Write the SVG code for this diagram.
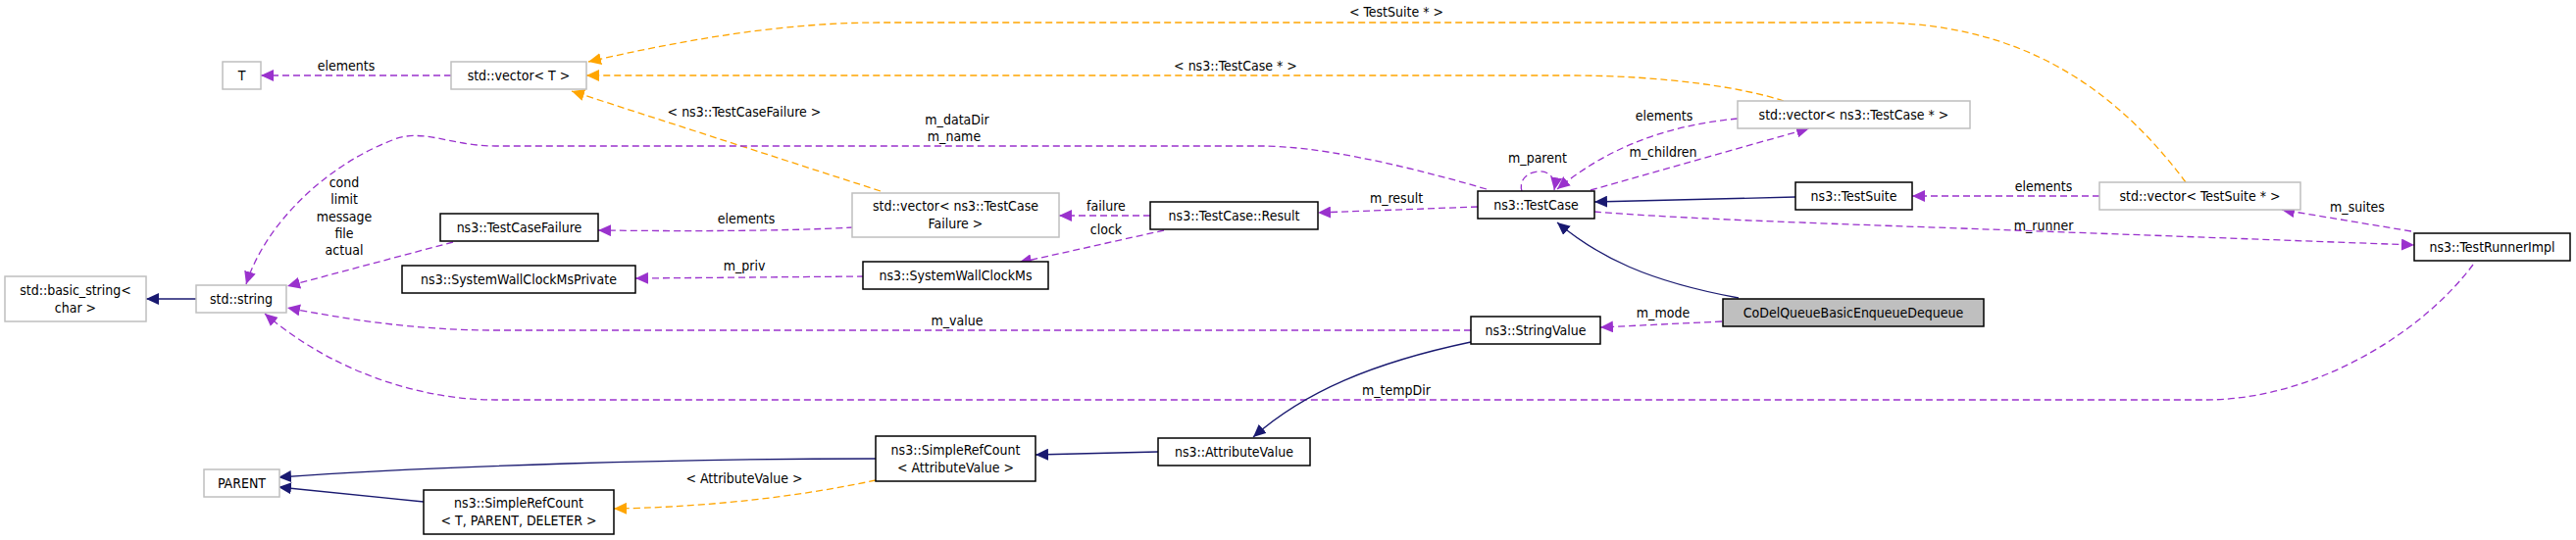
<svg xmlns="http://www.w3.org/2000/svg" width="2627" height="551" viewBox="0 0 2627 551">
<style>
text{font-family:"DejaVu Sans Condensed","Liberation Sans Narrow","DejaVu Sans",sans-serif;font-size:14px;fill:#000;text-anchor:middle}
.n rect{fill:#fff;stroke:#000;stroke-width:1.5}
.g rect{fill:#fff;stroke:#bfbfbf;stroke-width:1.5}
.e path{fill:none;stroke-width:1.3}
.p{stroke:#9a32cd;stroke-dasharray:7,4;marker-end:url(#ap)}
.o{stroke:#ffa500;stroke-dasharray:7,4;marker-end:url(#ao)}
.b{stroke:#191970;marker-end:url(#ab)}
</style>
<defs>
<marker id="ap" markerUnits="userSpaceOnUse" markerWidth="14" markerHeight="12" refX="13" refY="6" orient="auto"><path d="M0,0L13,6L0,12z" fill="#9a32cd"/></marker>
<marker id="ao" markerUnits="userSpaceOnUse" markerWidth="14" markerHeight="12" refX="13" refY="6" orient="auto"><path d="M0,0L13,6L0,12z" fill="#ffa500"/></marker>
<marker id="ab" markerUnits="userSpaceOnUse" markerWidth="14" markerHeight="12" refX="13" refY="6" orient="auto"><path d="M0,0L13,6L0,12z" fill="#191970"/></marker>
</defs>
<g id="connectors" class="e">
<path class="p" d="M460,77H266"/>
<path class="o" d="M898,195L583,93"/>
<path class="o" d="M1819,103C1780,90 1700,77 1600,77H598"/>
<path class="o" d="M2229,186C2150,80 2050,23 1911,23H898C800,23 700,40 600,63"/>
<path class="p" d="M1516,193C1420,165 1340,149 1286,149H505C460,149 430,130 400,143C330,170 270,230 251,290"/>
<path class="p" d="M462,247L293,292"/>
<path class="b" d="M200,305H149"/>
<path class="p" d="M870,232C800,236 700,236 610,235"/>
<path class="p" d="M881,282L648,284"/>
<path class="p" d="M1500,337H505C420,337 350,325 293,314"/>
<path class="p" d="M2522,270C2470,340 2360,408 2249,408H505C430,408 340,380 270,320"/>
<path class="b" d="M893,468C700,468 450,475 284,487"/>
<path class="b" d="M432,512L284,497"/>
<path class="o" d="M893,490C800,510 700,518 626,519"/>
<path class="p" d="M1173,220H1080"/>
<path class="p" d="M1187,235L1039,268"/>
<path class="p" d="M1507,211L1344,217"/>
<path class="p" d="M1552,195C1545,172 1590,165 1585,194"/>
<path class="p" d="M1772,121C1700,128 1640,150 1588,193"/>
<path class="p" d="M1622,194L1845,131"/>
<path class="b" d="M1831,201L1626,206"/>
<path class="p" d="M2141,200H1950"/>
<path class="p" d="M1626,216C1700,222 1800,226 2000,233L2462,250"/>
<path class="p" d="M2459,236L2327,214"/>
<path class="b" d="M1773,304C1680,287 1630,262 1588,227"/>
<path class="p" d="M1756,328L1632,334"/>
<path class="b" d="M1500,349C1400,370 1330,400 1278,446"/>
<path class="b" d="M1181,461L1056,464"/>
</g>
<g id="labels">
<text x="353" y="72">elements</text>
<text x="759" y="119">&lt; ns3::TestCaseFailure &gt;</text>
<text x="351" y="191">cond</text>
<text x="351" y="208">limit</text>
<text x="351" y="226">message</text>
<text x="351" y="243">file</text>
<text x="351" y="260">actual</text>
<text x="761" y="228">elements</text>
<text x="759" y="276">m_priv</text>
<text x="759" y="493">&lt; AttributeValue &gt;</text>
<text x="1424" y="17">&lt; TestSuite * &gt;</text>
<text x="1260" y="72">&lt; ns3::TestCase * &gt;</text>
<text x="976" y="127">m_dataDir</text>
<text x="973" y="144">m_name</text>
<text x="1697" y="123">elements</text>
<text x="1568" y="166">m_parent</text>
<text x="1696" y="160">m_children</text>
<text x="1128" y="215">failure</text>
<text x="1128" y="239">clock</text>
<text x="1424" y="207">m_result</text>
<text x="1696" y="324">m_mode</text>
<text x="976" y="332">m_value</text>
<text x="1424" y="403">m_tempDir</text>
<text x="2084" y="195">elements</text>
<text x="2404" y="216">m_suites</text>
<text x="2084" y="235">m_runner</text>
</g>
<g id="T" class="g"><rect x="227" y="63" width="39" height="28"/><text x="246.5" y="82">T</text></g>
<g id="vecT" class="g"><rect x="460" y="63" width="138" height="28"/><text x="529" y="82">std::vector&lt; T &gt;</text></g>
<g id="basic_string" class="g"><rect x="5" y="282" width="144" height="46"/><text x="77" y="301">std::basic_string&lt;</text><text x="77" y="319">char &gt;</text></g>
<g id="string" class="g"><rect x="200" y="291" width="92" height="28"/><text x="246" y="310">std::string</text></g>
<g id="TestCaseFailure" class="n"><rect x="449" y="218" width="161" height="28"/><text x="529.5" y="237">ns3::TestCaseFailure</text></g>
<g id="SWCMsPrivate" class="n"><rect x="410" y="271" width="238" height="28"/><text x="529" y="290">ns3::SystemWallClockMsPrivate</text></g>
<g id="PARENT" class="g"><rect x="208" y="479" width="77" height="28"/><text x="246.5" y="498">PARENT</text></g>
<g id="SRC_TPD" class="n"><rect x="432" y="500" width="194" height="45"/><text x="529" y="518">ns3::SimpleRefCount</text><text x="529" y="536">&lt; T, PARENT, DELETER &gt;</text></g>
<g id="vecTCF" class="g"><rect x="869" y="197" width="211" height="45"/><text x="974.5" y="215">std::vector&lt; ns3::TestCase</text><text x="974.5" y="233">Failure &gt;</text></g>
<g id="Result" class="n"><rect x="1173" y="206" width="171" height="28"/><text x="1258.5" y="225">ns3::TestCase::Result</text></g>
<g id="SWCMs" class="n"><rect x="880" y="267" width="189" height="28"/><text x="974.5" y="286">ns3::SystemWallClockMs</text></g>
<g id="TestCase" class="n"><rect x="1507" y="195" width="119" height="28"/><text x="1566.5" y="214">ns3::TestCase</text></g>
<g id="StringValue" class="n"><rect x="1500" y="323" width="132" height="28"/><text x="1566" y="342">ns3::StringValue</text></g>
<g id="SRC_AV" class="n"><rect x="893" y="445" width="163" height="46"/><text x="974.5" y="464">ns3::SimpleRefCount</text><text x="974.5" y="482">&lt; AttributeValue &gt;</text></g>
<g id="AttributeValue" class="n"><rect x="1181" y="447" width="155" height="28"/><text x="1258.5" y="466">ns3::AttributeValue</text></g>
<g id="vecTCp" class="g"><rect x="1772" y="103" width="237" height="28"/><text x="1890.5" y="122">std::vector&lt; ns3::TestCase * &gt;</text></g>
<g id="TestSuite" class="n"><rect x="1831" y="186" width="119" height="28"/><text x="1890.5" y="205">ns3::TestSuite</text></g>
<g id="vecTSp" class="g"><rect x="2141" y="186" width="205" height="28"/><text x="2243.5" y="205">std::vector&lt; TestSuite * &gt;</text></g>
<g id="TestRunnerImpl" class="n"><rect x="2462" y="238" width="159" height="28"/><text x="2541.5" y="257">ns3::TestRunnerImpl</text></g>
<g id="CoDel"><rect x="1757" y="305" width="266" height="28" fill="#bfbfbf" stroke="#000" stroke-width="1.5"/><text x="1890" y="324">CoDelQueueBasicEnqueueDequeue</text></g>
</svg>
